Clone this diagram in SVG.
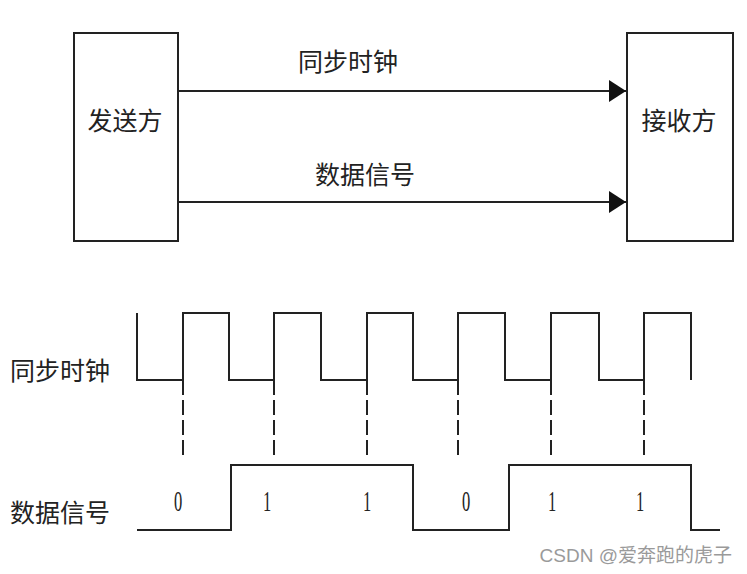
<svg xmlns="http://www.w3.org/2000/svg" width="747" height="574" viewBox="0 0 747 574">
<defs>
<style>
.box{fill:#fff;stroke:#222;stroke-width:2}
.cn{font-family:"Noto Sans CJK SC","Liberation Sans",sans-serif;font-size:25px;fill:#222}
.ln{fill:none;stroke:#222;stroke-width:2}
.dash{fill:none;stroke:#222;stroke-width:2;stroke-dasharray:15 5}
.dg{font-family:"Liberation Serif",serif;font-size:30px;fill:#222}
.wm{font-family:"Liberation Sans","Noto Sans CJK SC",sans-serif;font-size:19px;fill:#9a9a9a}
</style>
<marker id="ah" markerWidth="18" markerHeight="22" refX="17" refY="11" orient="auto" markerUnits="userSpaceOnUse">
<path d="M0,0 L17,11 L0,22 Z" fill="#111"/>
</marker>
</defs>
<rect width="747" height="574" fill="#fff"/>
<g id="sender">
<rect class="box" x="74" y="33" width="104" height="208"/>
<text class="cn" x="125" y="130" text-anchor="middle">发送方</text>
</g>
<g id="receiver">
<rect class="box" x="627" y="33" width="106" height="208"/>
<text class="cn" x="679" y="130" text-anchor="middle">接收方</text>
</g>
<g id="connectors">
<line class="ln" x1="178" y1="91" x2="626" y2="91" marker-end="url(#ah)"/>
<line class="ln" x1="178" y1="202" x2="626" y2="202" marker-end="url(#ah)"/>
</g>
<g id="labels">
<text class="cn" x="348" y="71" text-anchor="middle">同步时钟</text>
<text class="cn" x="365" y="184" text-anchor="middle">数据信号</text>
</g>
<g id="clock">
<text class="cn" x="60" y="380" text-anchor="middle">同步时钟</text>
<path class="ln" d="M137,313 V380 H183 V313 H229 V380 H274 V313 H321 V380 H367 V313 H413 V380 H458 V313 H505 V380 H551 V313 H599 V380 H644 V313 H691 V380"/>
</g>
<g id="dashes">
<line class="dash" x1="183" y1="380" x2="183" y2="455"/>
<line class="dash" x1="274" y1="380" x2="274" y2="455"/>
<line class="dash" x1="367" y1="380" x2="367" y2="455"/>
<line class="dash" x1="458" y1="380" x2="458" y2="455"/>
<line class="dash" x1="551" y1="380" x2="551" y2="455"/>
<line class="dash" x1="644" y1="380" x2="644" y2="455"/>
</g>
<g id="data">
<text class="cn" x="60" y="522" text-anchor="middle">数据信号</text>
<path class="ln" d="M137,530 H231 V465 H413 V530 H509 V465 H691 V530 H720"/>
<g class="dg" text-anchor="middle">
<text transform="translate(178,511) scale(0.55,1)">0</text>
<text transform="translate(267,511) scale(0.55,1)">1</text>
<text transform="translate(367,511) scale(0.55,1)">1</text>
<text transform="translate(466,511) scale(0.55,1)">0</text>
<text transform="translate(552,511) scale(0.55,1)">1</text>
<text transform="translate(640,511) scale(0.55,1)">1</text>
</g>
</g>
<text class="wm" x="732" y="562" text-anchor="end">CSDN @爱奔跑的虎子</text>
</svg>
